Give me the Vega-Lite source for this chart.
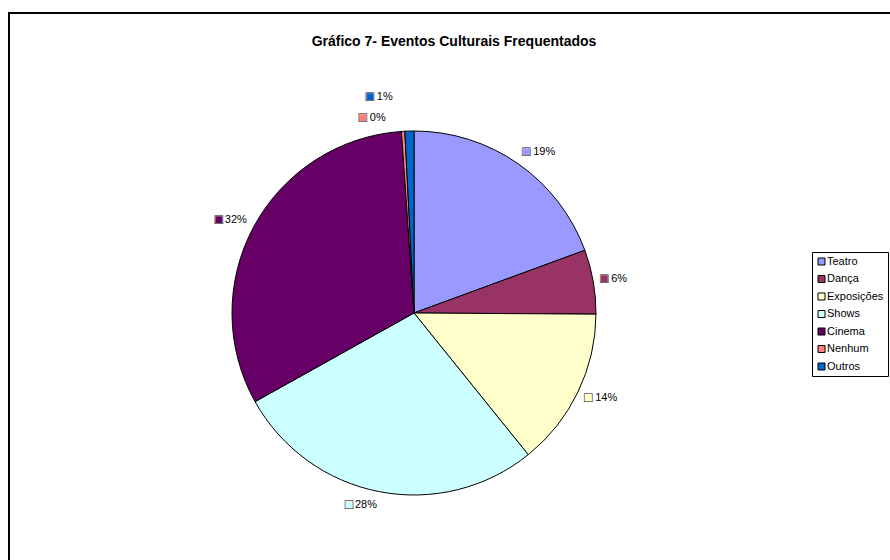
{
  "$schema": "https://vega.github.io/schema/vega-lite/v6.json",
  "width": 883,
  "height": 549,
  "autosize": {"type": "none"},
  "padding": {"left": 9, "top": 13, "right": -2, "bottom": -2},
  "background": "white",
  "config": {
    "view": {"stroke": null},
    "font": "Liberation Sans"
  },
  "title": {
    "text": "Gráfico 7- Eventos Culturais Frequentados",
    "fontSize": 14,
    "fontWeight": "bold",
    "font": "Liberation Sans",
    "color": "black",
    "anchor": "middle",
    "baseline": "middle",
    "offset": -44,
    "dx": 3.5
  },
  "data": {
    "values": [
      {"category": "Teatro", "share": 0.194, "ord": 1},
      {"category": "Dança", "share": 0.057, "ord": 2},
      {"category": "Exposições", "share": 0.141, "ord": 3},
      {"category": "Shows", "share": 0.277, "ord": 4},
      {"category": "Cinema", "share": 0.320, "ord": 5},
      {"category": "Nenhum", "share": 0.003, "ord": 6},
      {"category": "Outros", "share": 0.008, "ord": 7}
    ]
  },
  "layer": [
    {
      "data": {"values": [{"frame": 1}]},
      "mark": {"type": "rect", "fill": "transparent", "stroke": "black", "strokeWidth": 2},
      "encoding": {}
    },
    {
      "encoding": {
        "theta": {"field": "share", "type": "quantitative", "stack": true},
        "order": {"field": "ord", "type": "quantitative"},
        "color": {
          "field": "category",
          "type": "nominal",
          "sort": ["Teatro", "Dança", "Exposições", "Shows", "Cinema", "Nenhum", "Outros"],
          "scale": {
            "domain": ["Teatro", "Dança", "Exposições", "Shows", "Cinema", "Nenhum", "Outros"],
            "range": ["#9999FF", "#993366", "#FFFFCC", "#CCFFFF", "#660066", "#FF8080", "#0066CC"]
          },
          "legend": {
            "title": null,
            "orient": "none",
            "legendX": 803,
            "legendY": 239,
            "strokeColor": "black",
            "fillColor": "white",
            "padding": 4,
            "symbolType": "square",
            "symbolSize": 49,
            "symbolStrokeColor": "black",
            "symbolStrokeWidth": 1,
            "labelFontSize": 11,
            "labelFont": "Liberation Sans",
            "labelColor": "black",
            "labelOffset": 0,
            "rowPadding": 5.5
          }
        }
      },
      "layer": [
        {
          "mark": {"type": "arc", "outerRadius": 182, "stroke": "black", "strokeWidth": 1, "xOffset": -36.5, "yOffset": 25.5}
        },
        {
          "mark": {"type": "text", "text": "■", "font": "Liberation Sans", "fontSize": 14, "radius": 189, "align": "center", "baseline": "middle", "xOffset": -36.5, "yOffset": 25.5,
            "dx": {"expr": "sin(scale('theta', 0.5*datum.share_start + 0.5*datum.share_end)) >= 0 ? 4 : -29"},
            "dy": {"expr": "-7*cos(scale('theta', 0.5*datum.share_start + 0.5*datum.share_end))"}},
          "encoding": {
            "opacity": {"condition": {"test": "datum.category !== 'Nenhum' && datum.category !== 'Outros'", "value": 1}, "value": 0}
          }
        },
        {
          "mark": {"type": "text", "text": "□", "font": "Liberation Sans", "fontSize": 14, "radius": 189, "align": "center", "baseline": "middle", "xOffset": -36.5, "yOffset": 25.5,
            "dx": {"expr": "sin(scale('theta', 0.5*datum.share_start + 0.5*datum.share_end)) >= 0 ? 4 : -29"},
            "dy": {"expr": "-7*cos(scale('theta', 0.5*datum.share_start + 0.5*datum.share_end))"}},
          "encoding": {
            "color": {"value": "black"},
            "opacity": {"condition": {"test": "datum.category !== 'Nenhum' && datum.category !== 'Outros'", "value": 1}, "value": 0}
          }
        },
        {
          "mark": {"type": "text", "font": "Liberation Sans", "fontSize": 11, "radius": 189, "baseline": "middle", "xOffset": -36.5, "yOffset": 25.5,
            "align": {"expr": "sin(scale('theta', 0.5*datum.share_start + 0.5*datum.share_end)) >= 0 ? 'left' : 'right'"},
            "dx": {"expr": "sin(scale('theta', 0.5*datum.share_start + 0.5*datum.share_end)) >= 0 ? 11 : -1"},
            "dy": {"expr": "-7*cos(scale('theta', 0.5*datum.share_start + 0.5*datum.share_end))"}},
          "encoding": {
            "text": {"field": "share", "type": "quantitative", "format": ".0%"},
            "color": {"value": "black"},
            "opacity": {"condition": {"test": "datum.category !== 'Nenhum' && datum.category !== 'Outros'", "value": 1}, "value": 0}
          }
        },
        {
          "mark": {"type": "text", "text": "■", "font": "Liberation Sans", "fontSize": 14, "radius": 205, "align": "center", "baseline": "middle", "xOffset": -36.5, "yOffset": 25.5, "dx": -39, "dy": 10},
          "encoding": {
            "opacity": {"condition": {"test": "datum.category === 'Nenhum'", "value": 1}, "value": 0}
          }
        },
        {
          "mark": {"type": "text", "text": "□", "font": "Liberation Sans", "fontSize": 14, "radius": 205, "align": "center", "baseline": "middle", "xOffset": -36.5, "yOffset": 25.5, "dx": -39, "dy": 10},
          "encoding": {
            "color": {"value": "black"},
            "opacity": {"condition": {"test": "datum.category === 'Nenhum'", "value": 1}, "value": 0}
          }
        },
        {
          "mark": {"type": "text", "font": "Liberation Sans", "fontSize": 11, "radius": 205, "align": "left", "baseline": "middle", "xOffset": -36.5, "yOffset": 25.5, "dx": -32, "dy": 10},
          "encoding": {
            "text": {"field": "share", "type": "quantitative", "format": ".0%"},
            "color": {"value": "black"},
            "opacity": {"condition": {"test": "datum.category === 'Nenhum'", "value": 1}, "value": 0}
          }
        },
        {
          "mark": {"type": "text", "text": "■", "font": "Liberation Sans", "fontSize": 14, "radius": 205, "align": "center", "baseline": "middle", "xOffset": -36.5, "yOffset": 25.5, "dx": -39, "dy": -11},
          "encoding": {
            "opacity": {"condition": {"test": "datum.category === 'Outros'", "value": 1}, "value": 0}
          }
        },
        {
          "mark": {"type": "text", "text": "□", "font": "Liberation Sans", "fontSize": 14, "radius": 205, "align": "center", "baseline": "middle", "xOffset": -36.5, "yOffset": 25.5, "dx": -39, "dy": -11},
          "encoding": {
            "color": {"value": "black"},
            "opacity": {"condition": {"test": "datum.category === 'Outros'", "value": 1}, "value": 0}
          }
        },
        {
          "mark": {"type": "text", "font": "Liberation Sans", "fontSize": 11, "radius": 205, "align": "left", "baseline": "middle", "xOffset": -36.5, "yOffset": 25.5, "dx": -32, "dy": -11},
          "encoding": {
            "text": {"field": "share", "type": "quantitative", "format": ".0%"},
            "color": {"value": "black"},
            "opacity": {"condition": {"test": "datum.category === 'Outros'", "value": 1}, "value": 0}
          }
        }
      ]
    }
  ]
}
